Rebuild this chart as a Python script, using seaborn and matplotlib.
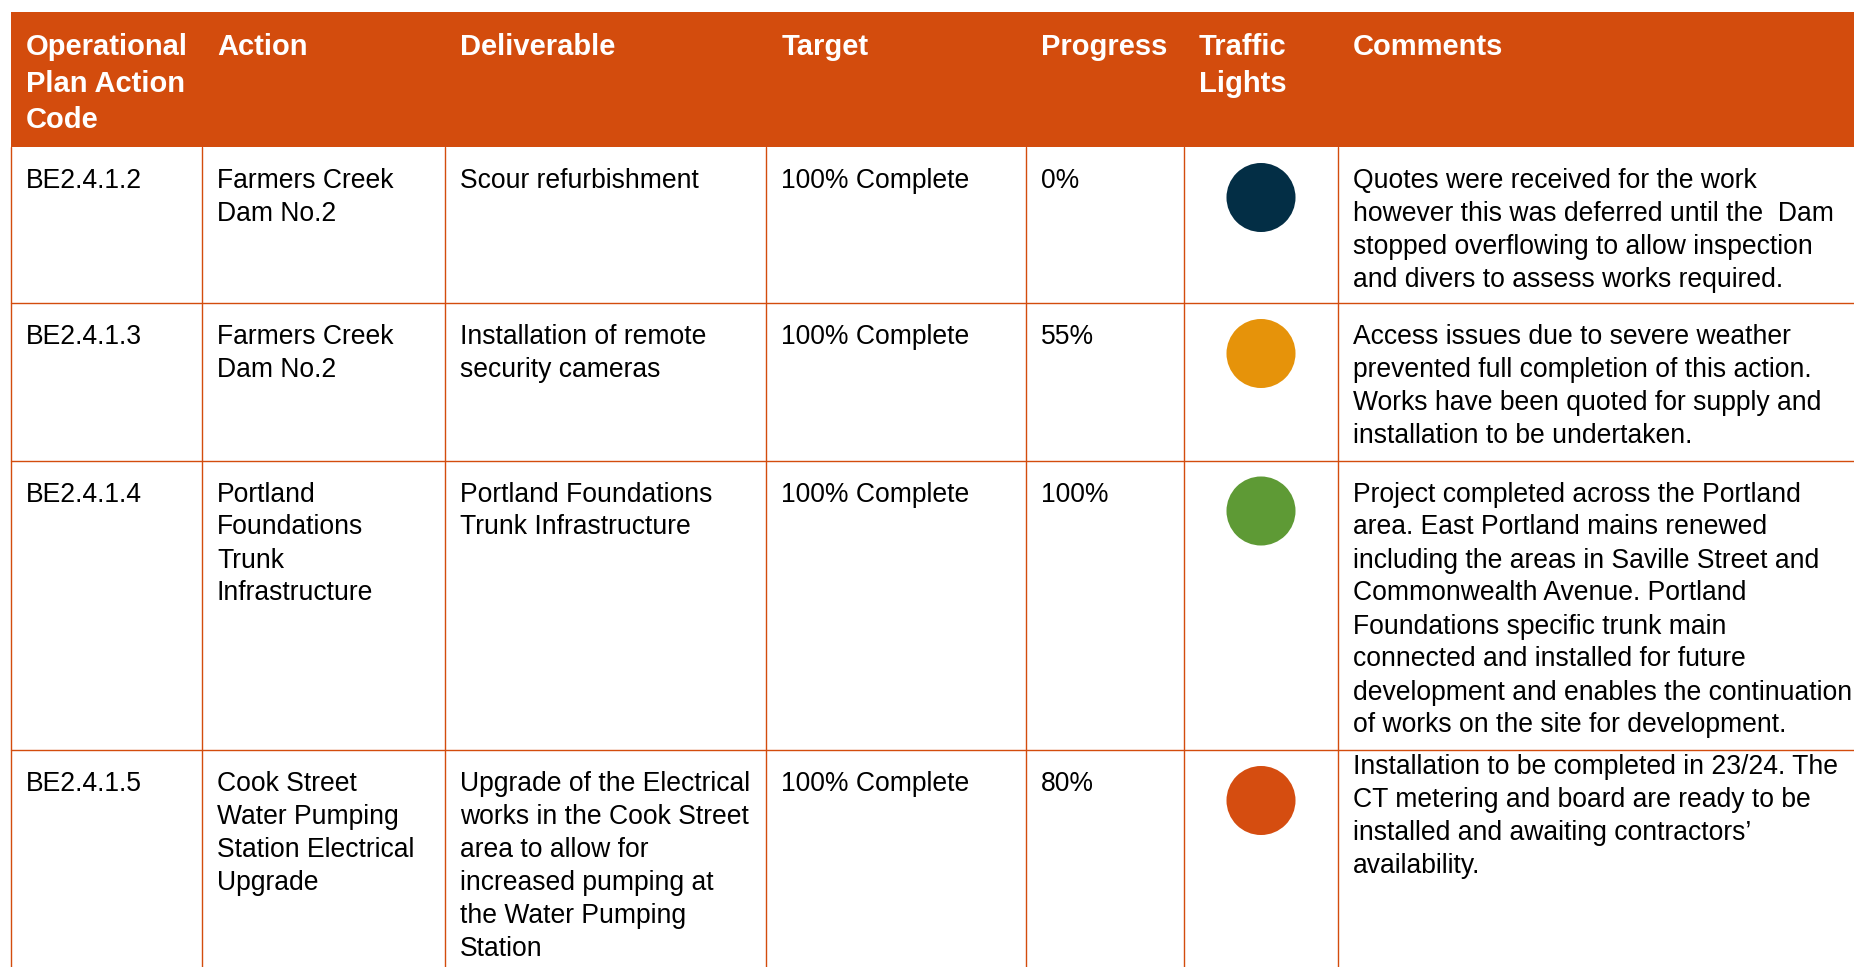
import numpy as np
import pandas as pd
import seaborn as sns
import matplotlib.pyplot as plt
from matplotlib.patches import Rectangle

# table content
headers = ["Operational\nPlan Action\nCode", "Action", "Deliverable", "Target",
           "Progress", "Traffic\nLights", "Comments"]
codes = ["BE2.4.1.2", "BE2.4.1.3", "BE2.4.1.4", "BE2.4.1.5"]
actions = ["Farmers Creek\nDam No.2",
           "Farmers Creek\nDam No.2",
           "Portland\nFoundations\nTrunk\nInfrastructure",
           "Cook Street\nWater Pumping\nStation Electrical\nUpgrade"]
deliverables = ["Scour refurbishment",
                "Installation of remote\nsecurity cameras",
                "Portland Foundations\nTrunk Infrastructure",
                "Upgrade of the Electrical\nworks in the Cook Street\narea to allow for\n"
                "increased pumping at\nthe Water Pumping\nStation"]
targets = ["100% Complete", "100% Complete", "100% Complete", "100% Complete"]
progress = [0, 55, 100, 80]
lights = ["not started", "delayed", "complete", "in progress"]
comments = ["Quotes were received for the work\nhowever this was deferred until the  Dam\n"
            "stopped overflowing to allow inspection\nand divers to assess works required.",
            "Access issues due to severe weather\nprevented full completion of this action.\n"
            "Works have been quoted for supply and\ninstallation to be undertaken.",
            "Project completed across the Portland\narea. East Portland mains renewed\n"
            "including the areas in Saville Street and\nCommonwealth Avenue. Portland\n"
            "Foundations specific trunk main\nconnected and installed for future\n"
            "development and enables the continuation\nof works on the site for development.",
            "Installation to be completed in 23/24. The\nCT metering and board are ready to be\n"
            "installed and awaiting contractors\u2019\navailability."]

light_colors = {"not started": "#032E45", "delayed": "#E6930A",
                "complete": "#5E9A35", "in progress": "#D54D10"}

# layout (pixels)
W, H = 1854, 967
col_x = [10.6, 202, 444.6, 766.5, 1026, 1184, 1338, W + 5]
row_y = [12, 147, 303, 460.5, 750, H + 5]
orange = "#D34C0D"
pad = 15
body_first = [41, 41, 41, 41]
comment_first = [41, 41, 41, 24]
line_h = 33
head_first, head_h = 43, 36.5

sns.set_theme(style="white")
plt.rcParams["font.family"] = ["Liberation Sans", "DejaVu Sans"]

fig = plt.figure(figsize=(W / 100, H / 100), dpi=100)
ax = fig.add_axes([0, 0, 1, 1])
ax.set_xlim(0, W)
ax.set_ylim(H, 0)
ax.axis("off")

# header band
ax.add_patch(Rectangle((col_x[0], row_y[0]), col_x[-1] - col_x[0], row_y[1] - row_y[0],
                       facecolor=orange, edgecolor="none"))
for j, h in enumerate(headers):
    for k, line in enumerate(h.split("\n")):
        ax.text(col_x[j] + pad, row_y[0] + head_first + k * head_h, line, color="white",
                fontsize=21, fontweight="bold", va="baseline", ha="left")

# grid lines
for x in col_x[:-1]:
    ax.plot([x, x], [row_y[1], row_y[-1]], color=orange, lw=1.0)
for y in row_y[2:-1]:
    ax.plot([col_x[0], col_x[-1]], [y, y], color=orange, lw=1.0)

# body text
def cell(text, j, i, first):
    for k, line in enumerate(text.split("\n")):
        ax.text(col_x[j] + pad, row_y[i + 1] + first + k * line_h, line, color="black",
                fontsize=19.1, va="baseline", ha="left")

for i in range(len(codes)):
    cell(codes[i], 0, i, body_first[i])
    cell(actions[i], 1, i, body_first[i])
    cell(deliverables[i], 2, i, body_first[i])
    cell(targets[i], 3, i, body_first[i])
    cell(f"{progress[i]}%", 4, i, body_first[i])
    cell(comments[i], 6, i, comment_first[i])

# traffic lights
df = pd.DataFrame({"status": lights,
                   "x": [(col_x[5] + col_x[6]) / 2] * len(lights),
                   "y": [row_y[i + 1] + 50.5 for i in range(len(lights))]})
sns.scatterplot(data=df, x="x", y="y", hue="status", palette=light_colors,
                s=2470, linewidth=0, legend=False, ax=ax)
ax.set_xlim(0, W)
ax.set_ylim(H, 0)
ax.axis("off")

fig.savefig("out.png", dpi=100, facecolor="white")
